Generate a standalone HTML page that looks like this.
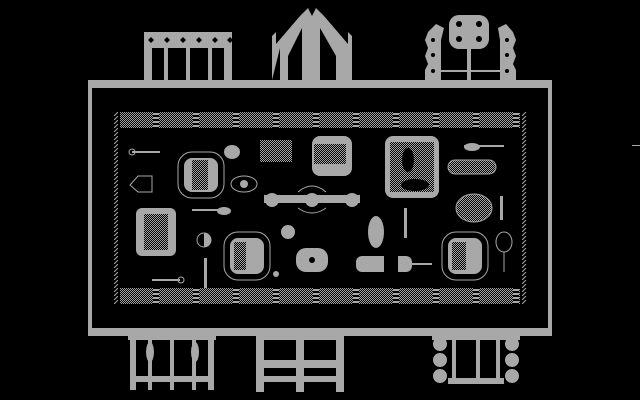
<!DOCTYPE html>
<html><head><style>html,body{margin:0;padding:0;background:#000;width:640px;height:400px;overflow:hidden}</style></head>
<body>
<svg width="640" height="400" viewBox="0 0 640 400" xmlns="http://www.w3.org/2000/svg">
<defs>
<pattern id="ck" width="2" height="2" patternUnits="userSpaceOnUse"><rect width="1" height="1" fill="#a8a8a8"/><rect x="1" y="1" width="1" height="1" fill="#a8a8a8"/></pattern>
<pattern id="strip" width="40" height="16" patternUnits="userSpaceOnUse"><rect width="40" height="16" fill="url(#ck)"/><rect x="33" y="0" width="6" height="16" fill="#000"/><rect x="33" y="1" width="6" height="2" fill="#a8a8a8"/><rect x="33" y="5" width="6" height="2" fill="#a8a8a8"/><rect x="33" y="9" width="6" height="2" fill="#a8a8a8"/><rect x="33" y="13" width="6" height="2" fill="#a8a8a8"/></pattern>
<pattern id="hatch" width="6" height="4" patternUnits="userSpaceOnUse"><path d="M0 4 L4 0" stroke="#a8a8a8" stroke-width="1"/></pattern>
</defs>
<g fill="#a8a8a8" stroke="none">
<!-- table frame -->
<rect x="88" y="80" width="464" height="8"/>
<rect x="88" y="80" width="4" height="256"/>
<rect x="548" y="80" width="4" height="256"/>
<rect x="88" y="328" width="464" height="8"/>
<!-- top chairs -->
<rect x="144" y="32" width="88" height="16"/>
<g fill="#000"><path d="M148 40 l3 -3 l3 3 l-3 3z M164 40 l3 -3 l3 3 l-3 3z M180 40 l3 -3 l3 3 l-3 3z M196 40 l3 -3 l3 3 l-3 3z M212 40 l3 -3 l3 3 l-3 3z M227 40 l3 -3 l3 3 l-3 3z"/></g>
<rect x="144" y="48" width="8" height="32"/><rect x="224" y="48" width="8" height="32"/>
<rect x="164" y="48" width="4" height="32"/><rect x="186" y="48" width="4" height="32"/><rect x="208" y="48" width="4" height="32"/>
<path d="M272 80 V36 L276 32 V44 L300 16 L308 8 L312 16 L316 8 L324 16 L348 44 V32 L352 36 V80 H344 V60 L340 48 H344 V80 H336 V56 L320 28 V80 H302 V28 L288 56 V80 H280 V48 Z"/>
<!-- right top chair -->
<path d="M425 80 V70 L428 64 L425 56 L428 48 L425 40 L428 32 L436 24 L444 28 L441 40 V80 Z"/>
<path d="M516 80 V70 L513 64 L516 56 L513 48 L516 40 L513 32 L506 24 L498 28 L500 40 V80 Z"/>
<rect x="449" y="15" width="40" height="34" rx="10"/>
<rect x="467" y="48" width="4" height="32"/>
<rect x="441" y="70" width="59" height="2"/>
<g fill="#000"><circle cx="433" cy="40" r="2"/><circle cx="433" cy="55" r="2"/><circle cx="433" cy="71" r="2"/><circle cx="507" cy="40" r="2"/><circle cx="507" cy="55" r="2"/><circle cx="507" cy="71" r="2"/><circle cx="459" cy="24" r="3"/><circle cx="479" cy="24" r="3"/><circle cx="459" cy="39" r="3"/><circle cx="479" cy="39" r="3"/></g>
<!-- bottom chairs -->
<rect x="128" y="336" width="88" height="4"/>
<rect x="130" y="340" width="6" height="50"/><rect x="208" y="340" width="6" height="50"/>
<rect x="148" y="340" width="4" height="50"/><rect x="170" y="340" width="4" height="50"/><rect x="192" y="340" width="4" height="50"/>
<ellipse cx="150" cy="352" rx="4" ry="10"/><ellipse cx="195" cy="352" rx="4" ry="10"/>
<rect x="132" y="376" width="80" height="6"/>
<rect x="256" y="336" width="88" height="4"/>
<rect x="256" y="336" width="8" height="56"/><rect x="336" y="336" width="8" height="56"/><rect x="296" y="336" width="8" height="56"/>
<rect x="264" y="360" width="72" height="8"/><rect x="264" y="376" width="72" height="6"/>
<rect x="432" y="336" width="88" height="4"/>
<circle cx="440" cy="344" r="7"/><circle cx="440" cy="360" r="7"/><circle cx="440" cy="376" r="7"/>
<circle cx="512" cy="344" r="7"/><circle cx="512" cy="360" r="7"/><circle cx="512" cy="376" r="7"/>
<rect x="452" y="336" width="4" height="48"/><rect x="476" y="336" width="4" height="48"/><rect x="496" y="336" width="4" height="48"/>
<rect x="448" y="378" width="56" height="6"/>
<!-- tablecloth strips -->
<rect x="120" y="112" width="400" height="16" fill="url(#strip)"/>
<rect x="120" y="288" width="400" height="16" fill="url(#strip)"/>
<rect x="112" y="112" width="6" height="192" fill="url(#hatch)"/>
<rect x="522" y="112" width="6" height="192" fill="url(#hatch)"/>
<!-- items -->
<rect x="312" y="136" width="40" height="40" rx="8"/>
<rect x="314" y="144" width="32" height="20" fill="#000"/><rect x="314" y="144" width="32" height="20" fill="url(#ck)"/>
<rect x="385" y="136" width="54" height="62" rx="8"/>
<rect x="390" y="142" width="44" height="50" fill="#000"/><rect x="390" y="142" width="44" height="50" fill="url(#ck)"/>
<ellipse cx="408" cy="160" rx="6" ry="12" fill="#000"/><ellipse cx="415" cy="185" rx="14" ry="6" fill="#000"/>
<rect x="260" y="140" width="32" height="22" fill="url(#ck)"/>
<ellipse cx="232" cy="152" rx="8" ry="7"/>
<path d="M464 146 h40" stroke="#a8a8a8" stroke-width="2"/><ellipse cx="472" cy="147" rx="8" ry="4"/>
<rect x="448" y="160" width="48" height="14" rx="7" fill="url(#ck)" stroke="#a8a8a8"/>
<rect x="178" y="152" width="46" height="46" rx="14" fill="none" stroke="#a8a8a8"/>
<rect x="184" y="158" width="34" height="34" rx="8"/>
<rect x="192" y="160" width="16" height="30" fill="#000"/><rect x="192" y="160" width="16" height="30" fill="url(#ck)"/>
<ellipse cx="244" cy="184" rx="13" ry="8" fill="none" stroke="#a8a8a8"/><circle cx="244" cy="184" r="4"/>
<path d="M130 185 L138 176 L152 176 L152 192 L138 192 Z" fill="none" stroke="#a8a8a8"/>
<rect x="264" y="195" width="96" height="8"/>
<circle cx="272" cy="200" r="7"/><circle cx="312" cy="200" r="7"/><circle cx="352" cy="200" r="7"/>
<path d="M298 192 Q312 180 326 192" fill="none" stroke="#a8a8a8"/>
<path d="M298 208 Q312 218 326 208" fill="none" stroke="#a8a8a8"/>
<rect x="136" y="208" width="40" height="48" rx="6"/>
<rect x="144" y="214" width="24" height="36" fill="#000"/><rect x="144" y="214" width="24" height="36" fill="url(#ck)"/>
<path d="M192 210 H224" stroke="#a8a8a8" stroke-width="2"/><ellipse cx="224" cy="211" rx="7" ry="4"/>
<circle cx="204" cy="240" r="7" fill="none" stroke="#a8a8a8"/><path d="M204 233 a7 7 0 0 1 0 14 Z"/>
<circle cx="288" cy="232" r="7"/>
<rect x="224" y="232" width="46" height="48" rx="14" fill="none" stroke="#a8a8a8"/>
<rect x="230" y="238" width="34" height="36" rx="8"/>
<rect x="234" y="242" width="12" height="28" fill="#000"/><rect x="234" y="242" width="12" height="28" fill="url(#ck)"/>
<rect x="296" y="248" width="32" height="24" rx="10"/><circle cx="312" cy="260" r="3" fill="#000"/>
<ellipse cx="376" cy="232" rx="8" ry="16"/>
<rect x="356" y="256" width="56" height="16" rx="6"/><rect x="384" y="256" width="14" height="16" fill="#000"/>
<path d="M412 264 H432" stroke="#a8a8a8" stroke-width="2"/>
<rect x="442" y="232" width="46" height="48" rx="14" fill="none" stroke="#a8a8a8"/>
<rect x="448" y="238" width="34" height="36" rx="8"/>
<rect x="452" y="242" width="14" height="28" fill="#000"/><rect x="452" y="242" width="14" height="28" fill="url(#ck)"/>
<ellipse cx="474" cy="208" rx="18" ry="14" fill="url(#ck)" stroke="#a8a8a8"/>
<ellipse cx="504" cy="242" rx="8" ry="10" fill="none" stroke="#a8a8a8"/><path d="M504 252 V272" stroke="#a8a8a8"/>
<rect x="404" y="208" width="3" height="30"/><rect x="500" y="196" width="3" height="24"/>
<rect x="204" y="258" width="3" height="30"/>
<circle cx="276" cy="274" r="3"/>
<path d="M132 152 H160 M152 280 H180" stroke="#a8a8a8" stroke-width="2"/>
<circle cx="132" cy="152" r="3" fill="none" stroke="#a8a8a8"/><circle cx="181" cy="280" r="3" fill="none" stroke="#a8a8a8"/>
<rect x="632" y="145" width="8" height="1"/>
</g>
</svg>
</body></html>
